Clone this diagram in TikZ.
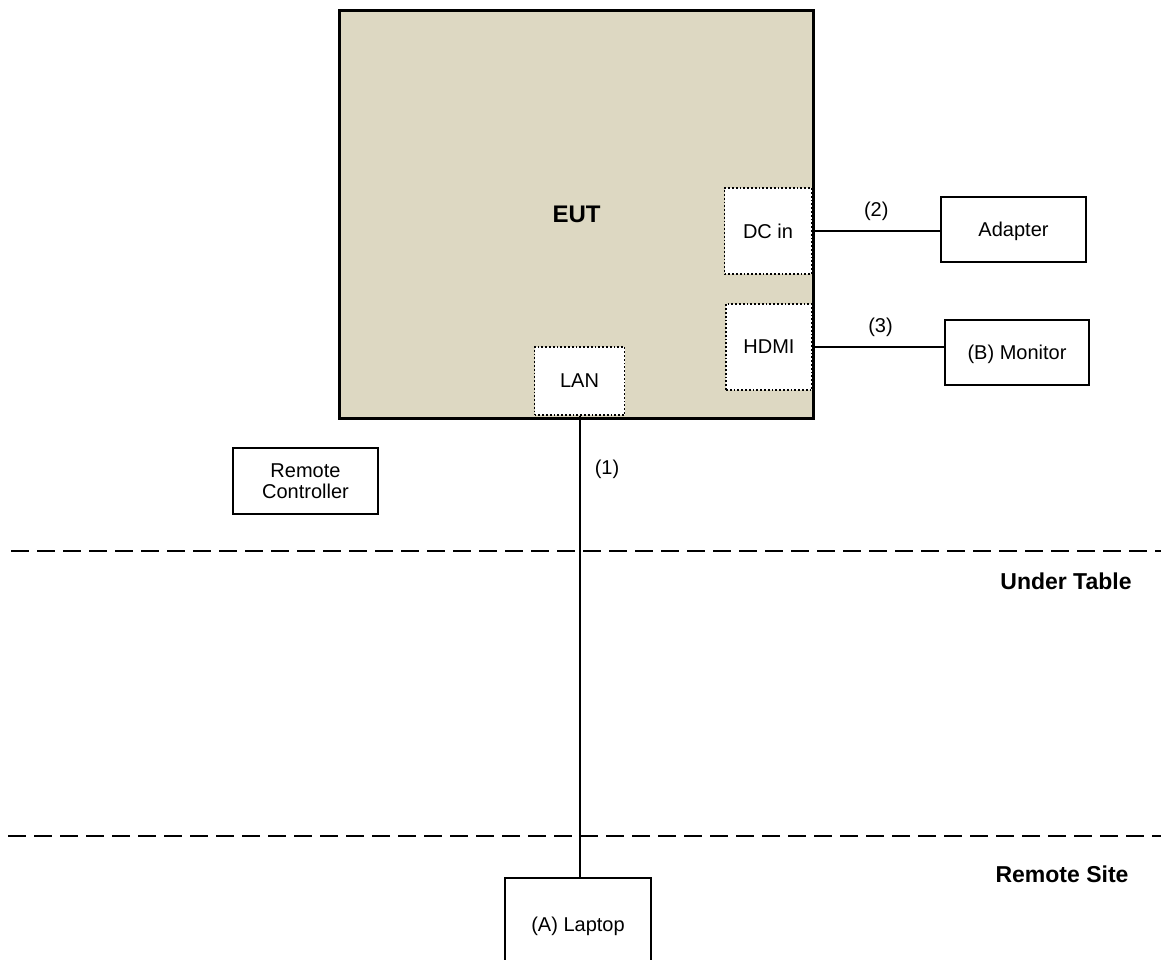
\documentclass[tikz,border=0pt]{standalone}
\usepackage{fontspec}
\setmainfont{Liberation Sans}
\definecolor{euttan}{RGB}{221,216,194}
\begin{document}
\begin{tikzpicture}[x=1pt,y=-1pt,
  txt/.style={font=\fontsize{20}{21}\selectfont},
  box/.style={draw,line width=1.8pt,inner sep=0pt,align=center,txt},
  one/.style={text depth=0pt},
  port/.style={draw,dotted,line width=1.8pt,fill=white,inner sep=0pt,txt,one},
  zone/.style={font=\bfseries\fontsize{23}{26}\selectfont},
  sepline/.style={line width=2.8pt,dash pattern=on 18pt off 8pt},
  wire/.style={line width=2pt}]
\useasboundingbox (0,0) rectangle (1161,959);
% EUT
\node[box,fill=euttan,minimum width=473pt,minimum height=407pt,
      font=\bfseries\fontsize{24}{26}\selectfont] (eut) at (576.5,214.5) {EUT};
\node[port,minimum width=87pt,minimum height=86pt] (dcin) at (768,231) {DC in};
\node[port,minimum width=86pt,minimum height=86pt] (hdmi) at (769,347) {HDMI};
\node[port,minimum width=90pt,minimum height=68pt] (lan) at (579.5,381) {LAN};
\draw[line width=1.8pt] (eut.north west) rectangle (eut.south east);
% peripherals
\node[box,one,minimum width=145pt,minimum height=65pt] (adapter) at (1013.5,229.5) {Adapter};
\node[box,one,minimum width=144pt,minimum height=65pt] (monitor) at (1017,352.5) {(B) Monitor};
\node[box,minimum width=145pt,minimum height=66pt] (remote) at (305.5,481) {Remote\\Controller};
\node[box,one,minimum width=146pt,minimum height=92pt] (laptop) at (578,924) {(A) Laptop};
% connectors
\draw[wire] (dcin.east) -- (dcin.east -| adapter.west) node[midway,above=6pt,txt] {(2)};
\draw[wire] (hdmi.east) -- (hdmi.east -| monitor.west) node[midway,above=6pt,txt,xshift=2pt] {(3)};
\draw[wire] (lan.south) -- (lan.south |- laptop.north);
\node[txt] (l1) at (607,469) {(1)};
% zones
\coordinate (s1a) at (11,551);
\coordinate (s1b) at (1161,551);
\coordinate (s2a) at (8,836);
\coordinate (s2b) at (1161,836);
\draw[sepline] (s1a) -- (s1b);
\draw[sepline] (s2a) -- (s2b);
\node[zone] (ut) at (1066,581) {Under Table};
\node[zone] (rs) at (1062,874) {Remote Site};
\end{tikzpicture}
\end{document}
